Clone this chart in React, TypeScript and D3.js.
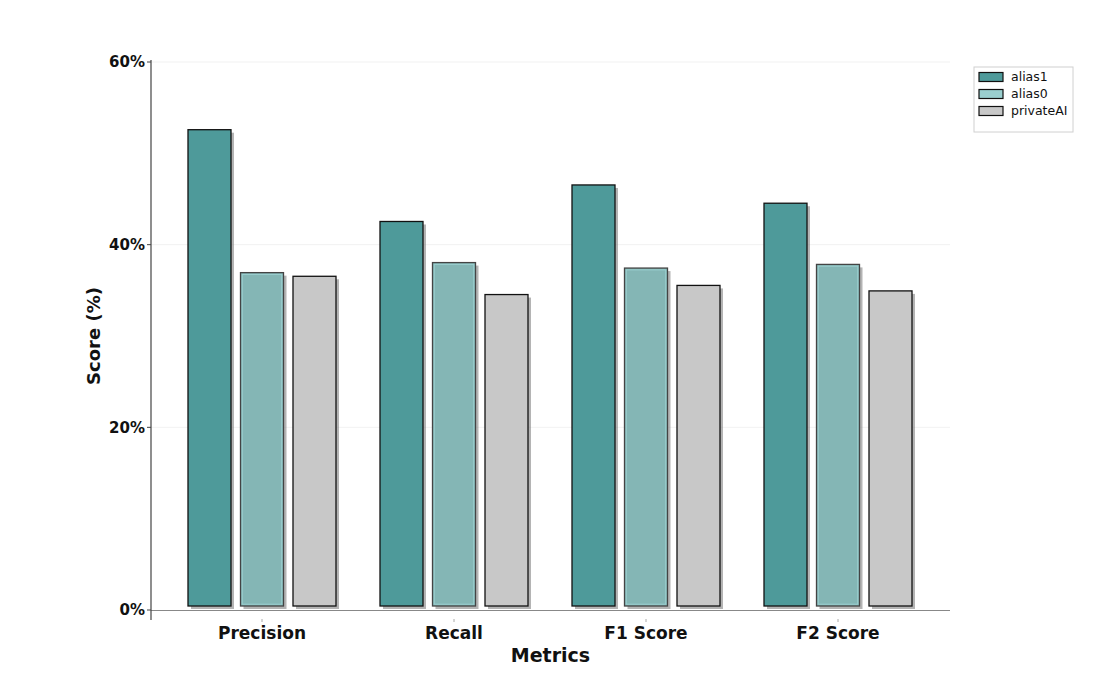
import React from "react";
import * as d3 from "d3";

const categories = ["Precision", "Recall", "F1 Score", "F2 Score"];
const seriesNames = ["alias1", "alias0", "privateAI"];
const alias1 = [52.15, 42.1, 46.1, 44.1];
const alias0 = [36.5, 37.6, 37.0, 37.4];
const privateAI = [36.1, 34.1, 35.1, 34.5];
const yTicks = [0, 20, 40, 60];

const seriesValues = [alias1, alias0, privateAI];
const barFill = ["#4e9a9a", "#84b6b5", "#c8c8c8"];
const legendFill = ["#4e9a9a", "#9acfcf", "#c8c8c8"];
const barStroke = ["#111", "#444", "#111"];

const W = 1116, H = 680;
const left = 151, right = 950, top = 62, bottom = 610;
const font = "DejaVu Sans, Verdana, sans-serif";

export default function App() {
  const y = d3.scaleLinear().domain([0, 60]).range([bottom, top]);
  const x0 = d3.scaleBand<string>().domain(categories).range([166, 934]).paddingInner(0).paddingOuter(0);
  const step = 52.5;
  const bw = 43;
  const center = (c: string) => (x0(c) as number) + x0.bandwidth() / 2;

  return (
    <svg width={W} height={H} style={{ display: "block", position: "absolute", left: 0, top: 0, background: "#fff" }}>
      {yTicks.filter(t => t > 0).map(t => (
        <line key={t} x1={left} x2={right} y1={y(t)} y2={y(t)} stroke="#ededed" strokeWidth={0.8} />
      ))}
      {categories.map((c, ci) => (
        <g key={c}>
          {seriesNames.map((s, si) => {
            const v = seriesValues[si][ci];
            const cx = center(c) + (si - 1) * step;
            const bx = cx - bw / 2;
            const by = y(v) - 4;
            const bh = y(0) - y(v);
            return (
              <g key={s}>
                <rect x={bx + 3} y={by + 3} width={bw} height={bh} fill="#777" opacity={0.55} />
                <rect x={bx} y={by} width={bw} height={bh} fill={barFill[si]} stroke={barStroke[si]} strokeWidth={1.3} />
                {si === 1 && (
                  <rect x={bx + 1.8} y={by + 1.8} width={bw - 3.6} height={bh - 3.6} fill="none" stroke="#9acfcf" strokeWidth={1} />
                )}
              </g>
            );
          })}
        </g>
      ))}
      <line x1={left} x2={right} y1={bottom + 0.5} y2={bottom + 0.5} stroke="#888" strokeWidth={1.2} />
      <line x1={left} x2={left} y1={top - 2} y2={bottom + 10} stroke="#444" strokeWidth={1.2} />
      {yTicks.map(t => (
        <g key={t}>
          <line x1={left - 4} x2={left} y1={y(t)} y2={y(t)} stroke="#444" strokeWidth={1} />
          <text x={left - 6} y={y(t)} dy="0.35em" textAnchor="end" fontFamily={font} fontWeight="bold" fontSize={15} fill="#111">{t}%</text>
        </g>
      ))}
      {categories.map(c => (
        <g key={c}>
          <line x1={center(c)} x2={center(c)} y1={bottom + 9} y2={bottom + 12} stroke="#aaa" strokeWidth={1} />
          <text x={center(c)} y={bottom + 29} textAnchor="middle" fontFamily={font} fontWeight="bold" fontSize={17} fill="#111">{c}</text>
        </g>
      ))}
      <text x={(left + right) / 2} y={bottom + 52} textAnchor="middle" fontFamily={font} fontWeight="bold" fontSize={19} fill="#111">Metrics</text>
      <text transform={`translate(100,${(top + bottom) / 2}) rotate(-90)`} textAnchor="middle" fontFamily={font} fontWeight="bold" fontSize={18} fill="#111">Score (%)</text>
      <rect x={974} y={67} width={99} height={65} fill="#fff" stroke="#d0d0d0" strokeWidth={1} />
      {seriesNames.map((s, i) => (
        <g key={s} transform={`translate(979,${77 + i * 17})`}>
          <rect x={0} y={-4.5} width={24} height={9} fill={legendFill[i]} stroke="#111" strokeWidth={1.2} />
          <text x={32} y={0} dy="0.35em" fontFamily={font} fontSize={12.5} fill="#111">{s}</text>
        </g>
      ))}
    </svg>
  );
}
